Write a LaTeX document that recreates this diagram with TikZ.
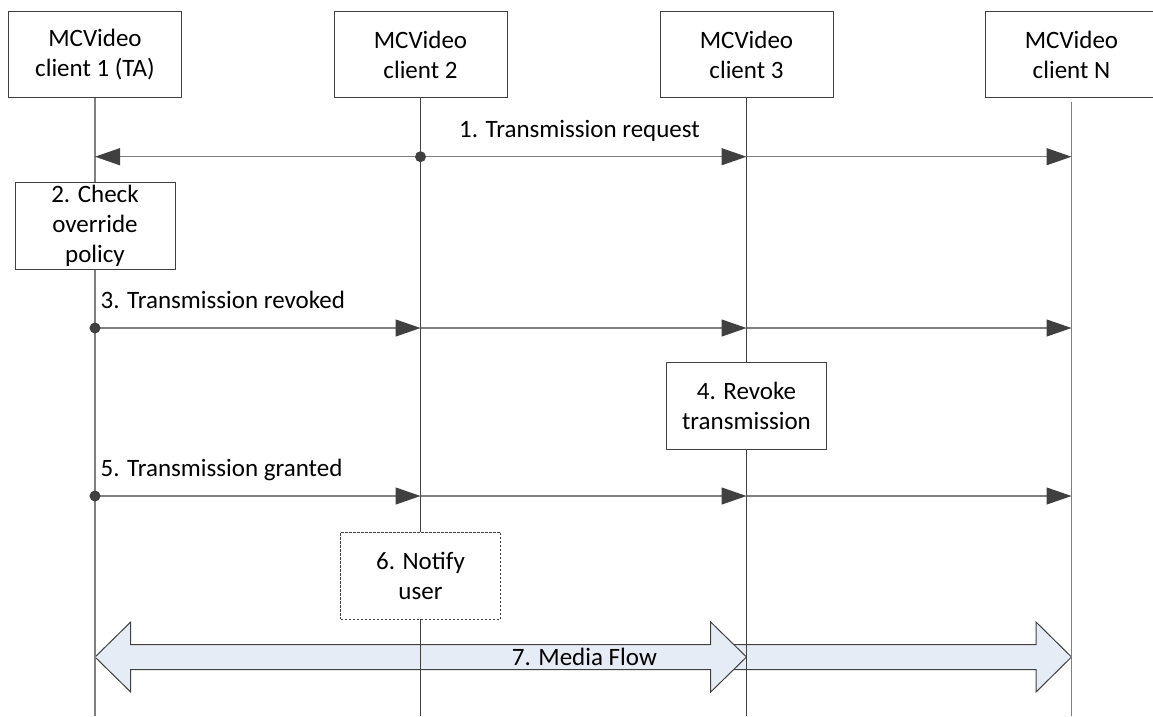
\documentclass[tikz,border=0pt]{standalone}
\usepackage{fontspec}
\setmainfont{Carlito}
\usetikzlibrary{arrows.meta,calc}
\definecolor{hd}{HTML}{404040}
\definecolor{ln}{HTML}{7F7F7F}
\definecolor{mf}{HTML}{E6ECF6}
\begin{document}
\begin{tikzpicture}[x=1pt,y=-1pt,
  font=\fontsize{25}{30}\selectfont,
  actor/.style={draw=hd, line width=1pt, fill=white, minimum width=173pt, minimum height=86pt, align=center, inner sep=0pt},
  proc/.style={draw=hd, line width=1pt, fill=white, minimum width=160pt, minimum height=87pt, align=center, inner sep=0pt},
  procdash/.style={proc, dash pattern=on 2.5pt off 1.5pt},
  lifeA/.style={draw=ln, line width=1.2pt},
  lifeB/.style={draw=hd, line width=1.2pt},
  msg/.style={draw=ln, line width=1.2pt, -{Triangle[length=25pt,width=17pt,fill=hd,color=hd]}},
  lbl/.style={anchor=base west, inner sep=0pt},
  dotmark/.style={circle, fill=hd, inner sep=0pt, minimum size=11pt},
  band/.style={draw=hd, line width=1pt, fill=mf, line join=miter}]
\useasboundingbox (0,0) rectangle (1153,716);

% header boxes
\node[actor] (c1) at (95,54.7) {MCVideo\\client 1 (TA)};
\node[actor] (c2) at (420.5,54.7) {MCVideo\\client 2};
\node[actor] (c3) at (746.5,54.7) {MCVideo\\client 3};
\node[actor] (cN) at (1071.5,54.7) {MCVideo\\client N};

% lifeline ends
\coordinate (e1) at (95,716);
\coordinate (e2) at (420.5,716);
\coordinate (e3) at (746.5,716);
\coordinate (eN) at (1071.5,716);
\coordinate (sN) at (1071.5,102);

% media flow band
\coordinate (m1) at (95,657);
\coordinate (m3) at (746.5,657);
\coordinate (mN) at (1071.5,657);
\draw[band] ($(m3)+(-30,-12.5)$) -- ($(mN)+(-35.5,-12.5)$) -- ($(mN)+(-35.5,-35)$) -- (mN)
  -- ($(mN)+(-35.5,35)$) -- ($(mN)+(-35.5,12.5)$) -- ($(m3)+(-30,12.5)$) -- cycle;
\draw[band] (m1) -- ($(m1)+(35.7,-35)$) -- ($(m1)+(35.7,-12.5)$) -- ($(m3)+(-35.8,-12.5)$)
  -- ($(m3)+(-35.8,-35)$) -- (m3) -- ($(m3)+(-35.8,35)$) -- ($(m3)+(-35.8,12.5)$)
  -- ($(m1)+(35.7,12.5)$) -- ($(m1)+(35.7,35)$) -- cycle;

% lifelines
\draw[lifeA] (c1.south) -- (e1);
\draw[lifeB] (c2.south) -- (e2);
\draw[lifeB] (c3.south) -- (e3);
\draw[lifeA] (sN) -- (eN);

% process boxes
\node[proc] (p2) at (95,225.5) {2. Check\\override\\policy};
\node[proc] (p4) at (746.5,406) {4. Revoke\\transmission};
\node[procdash] (p6) at (420.5,575.5) {6. Notify\\user};

% message 1
\coordinate (a1) at (95,156.7);
\coordinate (a2) at (420.5,156.7);
\coordinate (a3) at (746.5,156.7);
\coordinate (aN) at (1071.5,156.7);
\draw[msg] (a2) -- (a1);
\draw[msg] (a2) -- (a3);
\draw[msg] (a3) -- (aN);
\node[dotmark] (d1) at (a2) {};
\node[lbl] (t1) at (459,137) {1. Transmission request};

% message 3
\coordinate (b1) at (95,328);
\coordinate (b2) at (420.5,328);
\coordinate (b3) at (746.5,328);
\coordinate (bN) at (1071.5,328);
\draw[msg] (b1) -- (b2);
\draw[msg] (b2) -- (b3);
\draw[msg] (b3) -- (bN);
\node[dotmark] (d3) at (b1) {};
\node[lbl] (t3) at (100.5,308.3) {3. Transmission revoked};

% message 5
\coordinate (g1) at (95,496);
\coordinate (g2) at (420.5,496);
\coordinate (g3) at (746.5,496);
\coordinate (gN) at (1071.5,496);
\draw[msg] (g1) -- (g2);
\draw[msg] (g2) -- (g3);
\draw[msg] (g3) -- (gN);
\node[dotmark] (d5) at (g1) {};
\node[lbl] (t5) at (100.5,476.5) {5. Transmission granted};

% media flow label
\node[lbl] (t7) at (511.7,665) {7. Media Flow};
\end{tikzpicture}
\end{document}
